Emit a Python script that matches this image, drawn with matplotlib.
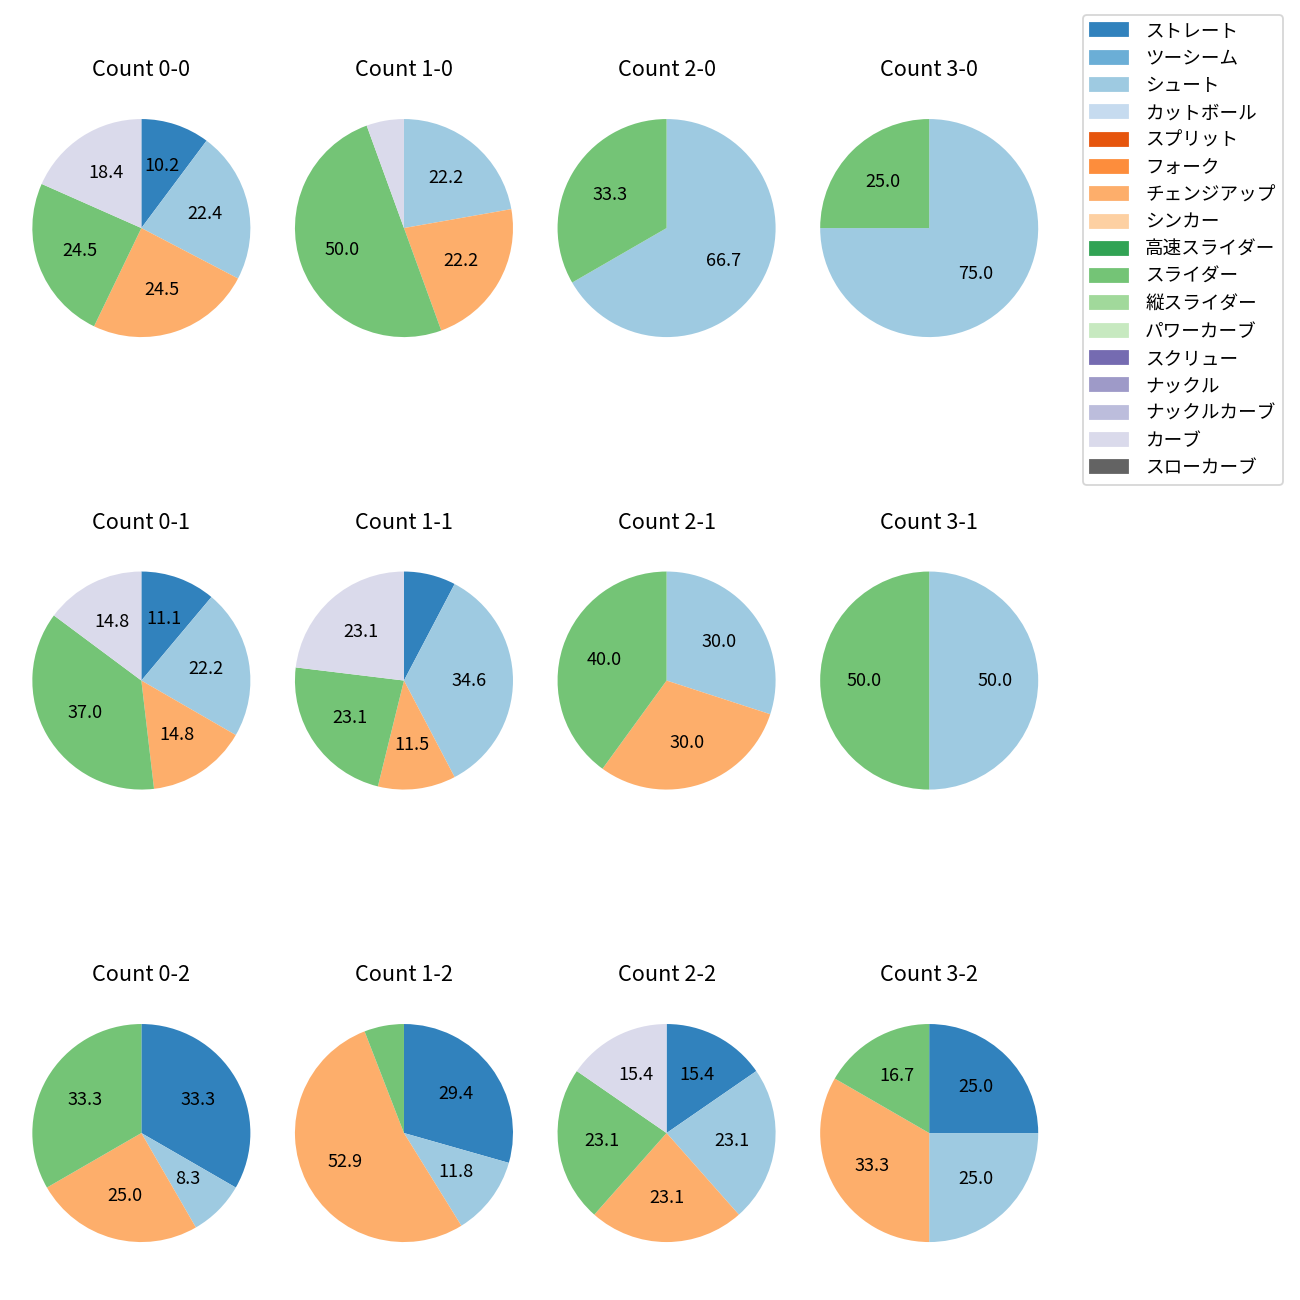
import matplotlib.pyplot as plt
from matplotlib.patches import Patch

plt.rcParams['font.family'] = ['Noto Sans CJK JP', 'DejaVu Sans']

# all pitch types shown in the legend (tab20c order)
pitch_types = ['ストレート', 'ツーシーム', 'シュート', 'カットボール', 'スプリット', 'フォーク',
               'チェンジアップ', 'シンカー', '高速スライダー', 'スライダー', '縦スライダー',
               'パワーカーブ', 'スクリュー', 'ナックル', 'ナックルカーブ', 'カーブ', 'スローカーブ']

# pitch types that were actually thrown, in pie order
used_types = ['ストレート', 'シュート', 'チェンジアップ', 'スライダー', 'カーブ']

counts = ['0-0', '1-0', '2-0', '3-0',
          '0-1', '1-1', '2-1', '3-1',
          '0-2', '1-2', '2-2', '3-2']

# number of pitches per type (same order as used_types)
pitches = [
    [5, 11, 12, 12, 9],
    [0, 4, 4, 9, 1],
    [0, 2, 0, 1, 0],
    [0, 3, 0, 1, 0],
    [3, 6, 4, 10, 4],
    [2, 9, 3, 6, 6],
    [0, 3, 3, 4, 0],
    [0, 1, 0, 1, 0],
    [4, 1, 3, 4, 0],
    [5, 2, 9, 1, 0],
    [2, 3, 3, 3, 2],
    [3, 3, 4, 2, 0],
]

cmap = plt.get_cmap('tab20c')
colors = {p: cmap(i) for i, p in enumerate(pitch_types)}

fig, axes = plt.subplots(3, 4, figsize=(10, 10), dpi=130)
plt.subplots_adjust(left=0.0165, right=0.807, top=0.933, bottom=0.02, wspace=0.095, hspace=0.605)

for i in range(len(counts)):
    ax = axes[i // 4][i % 4]
    vals = [v for v in pitches[i] if v > 0]
    labs = [used_types[j] for j in range(len(used_types)) if pitches[i][j] > 0]
    ax.pie(vals, colors=[colors[l] for l in labs], startangle=90, counterclock=False,
           autopct=lambda p: '%.1f' % p if p >= 8 else '')
    ax.axis('equal')
    ax.set_title('Count ' + counts[i])

handles = [Patch(color=colors[p], label=p) for p in pitch_types]
fig.legend(handles=handles, loc='upper right', bbox_to_anchor=(1283 / 1300, 1 - 15 / 1300),
           borderaxespad=0, fontsize=10.3, handletextpad=0.95)

plt.savefig('out.png')
